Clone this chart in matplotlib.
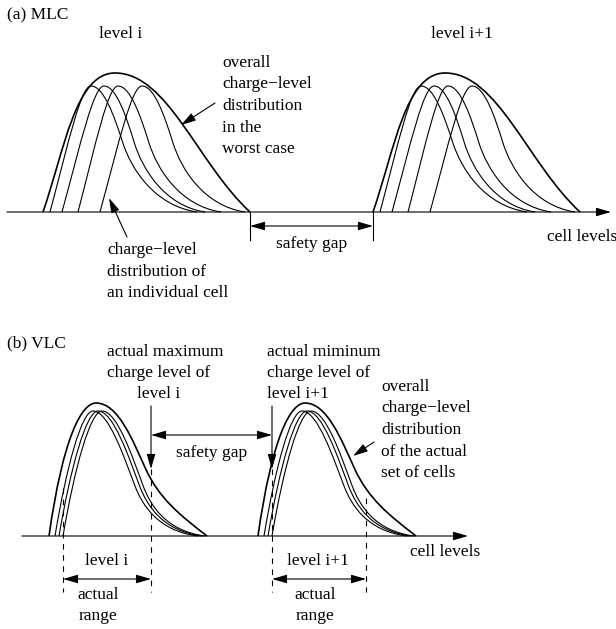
import matplotlib
matplotlib.use("Agg")
import matplotlib.pyplot as plt
from matplotlib.path import Path
from matplotlib.patches import PathPatch

plt.rcParams['font.family'] = ['Liberation Serif', 'DejaVu Serif']

# curve parameters (start, peak, end on the cell-level axis, peak height)
MLC_CELL_STARTS = [50, 62, 78, 100]
MLC_CELL_PEAKS = [91, 104, 118, 142]
MLC_CELL_ENDS = [197, 205, 221, 245]
MLC_CELL_TOP = 86
MLC_ENV = [43, 115, 250]
MLC_ENV_TOP = 73
MLC_LEVEL_SHIFT = [0, 330]

VLC_CELL_STARTS = [55, 59, 63]
VLC_CELL_PEAKS = [93, 98, 102]
VLC_CELL_ENDS = [198, 202, 205]
VLC_CELL_TOP = 411
VLC_ENV = [49, 96, 207]
VLC_ENV_TOP = 403
VLC_LEVEL_SHIFT = [0, 209]

MLC_BASE = 212
VLC_BASE = 536

# normalised bezier control polygons of the bump outlines (rise: start->peak, fall: peak->end)
MLC_CELL_RISE = [(0, 0), (0.45, 0.55), (0.75, 1), (1, 1)]
MLC_CELL_FALL = [(0, 0), (0.12, 0), (0.22, 0.24), (0.3, 0.45), (0.38, 0.66), (0.6, 0.95), (1, 1)]
MLC_ENV_RISE = [(0, 0), (0.3, 0.45), (0.45, 1), (1, 1)]
MLC_ENV_FALL = [(0, 0), (0.39, 0), (0.61, 0.65), (1, 1)]
VLC_CELL_RISE = [(0, 0), (0.3, 0.55), (0.7, 1), (1, 1)]
VLC_CELL_FALL = [(0, 0), (0.15, 0), (0.3, 0.38), (0.4, 0.6), (0.47, 0.754), (0.62, 0.96), (1, 1)]
VLC_ENV_RISE = [(0, 0), (0.3, 0.75), (0.7, 1), (1, 1)]
VLC_ENV_FALL = [(0, 0), (0.2, 0), (0.33, 0.28), (0.45, 0.5), (0.57, 0.716), (0.75, 0.84), (1, 1)]

OVERALL_MLC = ["overall", "charge\u2212level", "distribution", "in the", "worst case"]
INDIVIDUAL = ["charge\u2212level", "distribution of", "an individual cell"]
OVERALL_VLC = ["overall", "charge\u2212level", "distribution", "of the actual", "set of cells"]
MAX_LABEL = ["actual maximum", "charge level of", "level i"]
MIN_LABEL = ["actual miminum", "charge level of", "level i+1"]

FS = 12.5


def bump(ax, x0, xp, x1, top, base, rise, fall, lw=0.8):
    h = base - top
    verts = [(x0 + u * (xp - x0), base - v * h) for u, v in rise]
    verts += [(xp + u * (x1 - xp), top + v * h) for u, v in fall[1:]]
    codes = [Path.MOVETO] + [Path.CURVE4] * (len(verts) - 1)
    ax.add_patch(PathPatch(Path(verts, codes), fill=False, lw=lw, color='black'))


def arrow(ax, tail, tip, style='-|>'):
    ax.annotate('', xy=tip, xytext=tail,
                arrowprops=dict(arrowstyle=style + ',head_length=0.45,head_width=0.13',
                                mutation_scale=20, color='black', lw=0.8,
                                shrinkA=0, shrinkB=0))


def lines(ax, x, y0, texts, step=21.5, ha='left', xs=None):
    for i, t in enumerate(texts):
        xx = x if xs is None else xs[i]
        ax.text(xx, y0 + i * step, t, fontsize=FS, ha=ha, va='center')


fig = plt.figure(figsize=(6.16, 6.29), dpi=100)
ax = fig.add_axes([0, 0, 1, 1])
ax.set_xlim(0, 616)
ax.set_ylim(629, 0)
ax.axis('off')

# ---- (a) MLC ----
ax.text(7, 15, "(a) MLC", fontsize=FS, va='center')
arrow(ax, (7, MLC_BASE), (611, MLC_BASE))
for s in MLC_LEVEL_SHIFT:
    for x0, xp, x1 in zip(MLC_CELL_STARTS, MLC_CELL_PEAKS, MLC_CELL_ENDS):
        bump(ax, x0 + s, xp + s, x1 + s, MLC_CELL_TOP, MLC_BASE, MLC_CELL_RISE, MLC_CELL_FALL)
    bump(ax, MLC_ENV[0] + s, MLC_ENV[1] + s, MLC_ENV[2] + s, MLC_ENV_TOP, MLC_BASE,
         MLC_ENV_RISE, MLC_ENV_FALL, lw=1.2)
ax.text(121, 34, "level i", fontsize=FS, ha='center', va='center')
ax.text(462, 34, "level i+1", fontsize=FS, ha='center', va='center')

gap_l = MLC_ENV[2]
gap_r = MLC_ENV[0] + MLC_LEVEL_SHIFT[1]
ax.plot([gap_l, gap_l], [MLC_BASE, 240], color='black', lw=0.8)
ax.plot([gap_r, gap_r], [MLC_BASE, 240], color='black', lw=0.8)
arrow(ax, (gap_l, 226), (gap_r, 226), style='<|-|>')
ax.text((gap_l + gap_r) / 2, 244, "safety gap", fontsize=FS, ha='center', va='center')
ax.text(547, 237, "cell levels", fontsize=FS, va='center')

lines(ax, 222, 63, OVERALL_MLC)
arrow(ax, (215, 103), (181, 125))
lines(ax, 107, 250, INDIVIDUAL)
arrow(ax, (127, 237), (109, 198))

# ---- (b) VLC ----
ax.text(7, 343, "(b) VLC", fontsize=FS, va='center')
arrow(ax, (22, VLC_BASE), (468, VLC_BASE))
for s in VLC_LEVEL_SHIFT:
    for x0, xp, x1 in zip(VLC_CELL_STARTS, VLC_CELL_PEAKS, VLC_CELL_ENDS):
        bump(ax, x0 + s, xp + s, x1 + s, VLC_CELL_TOP, VLC_BASE, VLC_CELL_RISE, VLC_CELL_FALL)
    bump(ax, VLC_ENV[0] + s, VLC_ENV[1] + s, VLC_ENV[2] + s, VLC_ENV_TOP, VLC_BASE,
         VLC_ENV_RISE, VLC_ENV_FALL, lw=1.2)

max_x, min_x = 151, 272
lo_i, hi_i1 = 63, 366
lines(ax, 107, 352, MAX_LABEL, step=21, xs=[107, 107, 137])
lines(ax, 267, 352, MIN_LABEL, step=21)
arrow(ax, (max_x, 406), (max_x, 469))
arrow(ax, (min_x, 406), (min_x, 469))
arrow(ax, (max_x, 435), (min_x, 435), style='<|-|>')
ax.text((max_x + min_x) / 2, 453, "safety gap", fontsize=FS, ha='center', va='center')

for x, y0 in [(lo_i, 488), (max_x, 469), (min_x, 469), (hi_i1, 498)]:
    ax.plot([x, x], [y0, 592], color='black', lw=0.8, dashes=(5, 5))
arrow(ax, (lo_i, 579), (max_x, 579), style='<|-|>')
arrow(ax, (min_x, 579), (hi_i1, 579), style='<|-|>')
ax.text(107, 561, "level i", fontsize=FS, ha='center', va='center')
ax.text(318, 561, "level i+1", fontsize=FS, ha='center', va='center')
lines(ax, 98, 595, ["actual", "range"], ha='center')
lines(ax, 315, 595, ["actual", "range"], ha='center')

lines(ax, 381, 387, OVERALL_VLC)
arrow(ax, (374, 442), (353, 456))
ax.text(410, 552, "cell levels", fontsize=FS, va='center')

fig.savefig("out.png", dpi=100)
